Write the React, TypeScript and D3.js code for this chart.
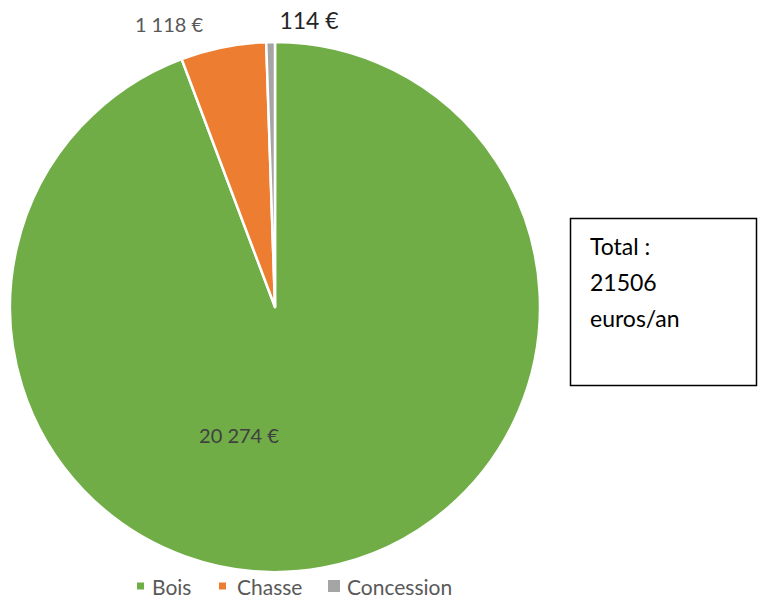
import { useEffect, useRef } from "react"
import * as d3 from "d3"

const categories = ["Bois", "Chasse", "Concession"]
const values = [20274, 1118, 114]
const labels = ["20 274 €", "1 118 €", "114 €"]
const colors = ["#70AD47", "#ED7D31", "#A5A5A5"]
const totalLines = ["Total :", "21506", "euros/an"]

const W = 762
const H = 598

export default function App() {
  const svgRef = useRef<SVGSVGElement>(null)

  useEffect(() => {
    if (!svgRef.current) return
    const root = d3.select(svgRef.current)
    root.selectAll("*").remove()

    const cx = 275
    const cy = 307
    const r = 265
    const font = "Lato, 'Open Sans', sans-serif"

    const g = root.append("g").attr("transform", `translate(${cx},${cy})`)

    const pie = d3.pie<number>().sort(null).value((d) => d)
    const arcs = pie(values)
    const arc = d3.arc<d3.PieArcDatum<number>>().innerRadius(0).outerRadius(r)

    g.selectAll("path")
      .data(arcs)
      .enter()
      .append("path")
      .attr("d", arc)
      .attr("fill", (d, i) => colors[i])
      .attr("stroke", "white")
      .attr("stroke-width", 2.5)
      .attr("stroke-linejoin", "round")

    // data labels (Excel placed them by hand)
    const labelPos = [
      { dx: -36, dy: 128, size: 20, color: "#404040" },
      { dx: -106, dy: -283, size: 20, color: "#595959" },
      { dx: 34, dy: -287, size: 23, color: "#262626" },
    ]
    g.selectAll("text.lbl")
      .data(labels)
      .enter()
      .append("text")
      .attr("class", "lbl")
      .attr("x", (d, i) => labelPos[i].dx)
      .attr("y", (d, i) => labelPos[i].dy)
      .attr("text-anchor", "middle")
      .attr("dominant-baseline", "central")
      .attr("font-family", font)
      .attr("font-size", (d, i) => labelPos[i].size)
      .attr("fill", (d, i) => labelPos[i].color)
      .text((d) => d)

    // total box
    const box = root.append("g")
    box.append("rect")
      .attr("x", 570.5)
      .attr("y", 218.5)
      .attr("width", 186)
      .attr("height", 167)
      .attr("fill", "white")
      .attr("stroke", "black")
      .attr("stroke-width", 1.5)
    box.selectAll("text")
      .data(totalLines)
      .enter()
      .append("text")
      .attr("x", 590)
      .attr("y", (d, i) => 255 + i * 36)
      .attr("font-family", font)
      .attr("font-size", 23)
      .attr("fill", "black")
      .text((d) => d)

    // legend
    const legendX = [137, 219, 328]
    const legendSq = [7, 7, 12]
    const legendTextX = [152, 237, 347]
    const leg = root.append("g")
    const items = leg.selectAll("g").data(categories).enter().append("g")
    items.append("rect")
      .attr("x", (d, i) => legendX[i])
      .attr("y", (d, i) => 586 - legendSq[i] / 2)
      .attr("width", (d, i) => legendSq[i])
      .attr("height", (d, i) => legendSq[i])
      .attr("fill", (d, i) => colors[i])
    items.append("text")
      .attr("x", (d, i) => legendTextX[i])
      .attr("y", 586)
      .attr("dominant-baseline", "central")
      .attr("font-family", font)
      .attr("font-size", 21)
      .attr("fill", "#595959")
      .text((d) => d)
  }, [])

  return (
    <svg
      ref={svgRef}
      width={W}
      height={H}
      style={{ position: "absolute", left: 0, top: 0, background: "white" }}
    ></svg>
  )
}
